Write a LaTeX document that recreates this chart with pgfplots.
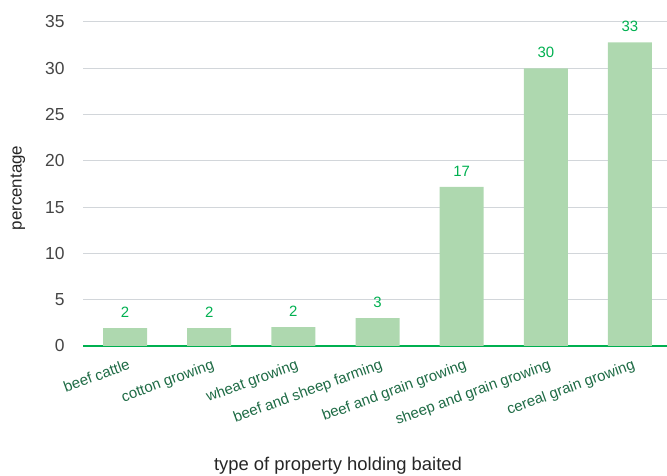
\documentclass[border=0pt]{standalone}
\usepackage{pgfplots}
\pgfplotsset{compat=1.18}
\usepackage{fontspec}
\setmainfont{Liberation Sans}
\definecolor{barfill}{HTML}{AED8AF}
\definecolor{axgreen}{HTML}{00B050}
\definecolor{lblgreen}{HTML}{1E6B45}
\definecolor{gridgrey}{HTML}{D2D6DA}
\definecolor{tickgrey}{HTML}{454545}
\begin{document}
\begin{tikzpicture}[x=1bp,y=1bp]
\useasboundingbox (0,0) rectangle (667,476);
\begin{axis}[
  at={(83bp,130bp)}, anchor=south west,
  scale only axis, width=584bp, height=324bp,
  xmin=-0.5, xmax=6.44, ymin=0, ymax=35,
  ytick={0,5,...,35},
  xtick={0,...,6},
  xticklabels={beef cattle,cotton growing,wheat growing,beef and sheep farming,beef and grain growing,sheep and grain growing,cereal grain growing},
  /pgf/number format/assume math mode=true,
  major tick length=0pt,
  axis lines*=left,
  x axis line style={draw=axgreen, line width=1.1pt, -},
  y axis line style={draw=none},
  ymajorgrids, major grid style={gridgrey, line width=1pt},
  yticklabel style={font=\fontsize{17.5}{20}\selectfont, text=tickgrey, xshift=-15bp},
  xticklabel style={font=\fontsize{15}{18}\selectfont, text=lblgreen, rotate=20, anchor=north east, xshift=1bp, yshift=-9bp},
  nodes near coords,
  point meta=explicit symbolic,
  every node near coord/.append style={font=\fontsize{15}{18}\selectfont, text=axgreen, yshift=7bp},
  clip=false,
]
\addplot[ybar, bar width=44bp, fill=barfill, draw=none] coordinates {
  (0,1.94) [2]
  (1,1.94) [2]
  (2,2.05) [2]
  (3,3.0) [3]
  (4,17.2) [17]
  (5,30.0) [30]
  (6,32.8) [33]
};
\end{axis}
\node[font=\fontsize{17}{20}\selectfont, text=black!85, rotate=90] at (18,288) {percentage};
\node[font=\fontsize{18.5}{21}\selectfont, text=black!85] at (338,10) {type of property holding baited};
\end{tikzpicture}
\end{document}
